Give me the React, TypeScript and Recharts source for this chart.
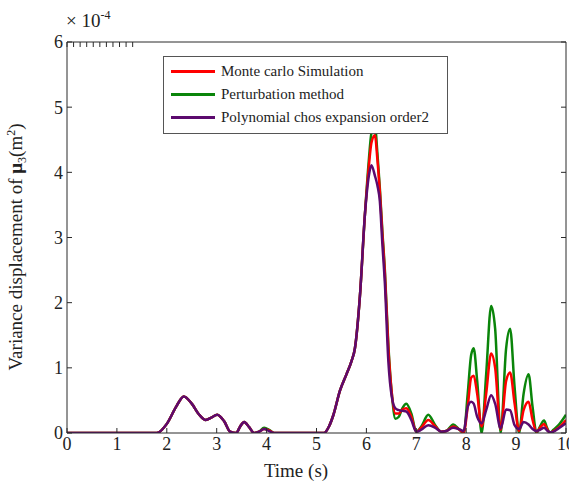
import React from 'react';
import { LineChart, Line, XAxis, YAxis, Label } from 'recharts';

// time (s)
const time = [
  0, 1.8, 2.0, 2.2, 2.34, 2.5, 2.65, 2.78, 2.9, 3.01, 3.15, 3.27, 3.39, 3.47, 3.55, 3.65, 3.75, 3.85, 3.95, 4.05, 4.15,
  5.15, 5.25, 5.34, 5.47, 5.6, 5.7, 5.77, 5.87, 5.97, 6.05, 6.1, 6.17, 6.22, 6.27, 6.32, 6.37, 6.44, 6.51, 6.58, 6.65,
  6.72, 6.8, 6.9, 7.0, 7.1, 7.24, 7.38, 7.5, 7.6, 7.74, 7.85, 7.95, 8.03, 8.1, 8.15, 8.22, 8.31, 8.4, 8.5, 8.58, 8.69,
  8.8, 8.88, 8.97, 9.06, 9.15, 9.25, 9.33, 9.41, 9.48, 9.56, 9.62, 9.68, 9.75, 9.85, 10,
];

// variance (x 1e-4 m^2)
const monteCarlo = [
  0, 0, 0.14, 0.42, 0.56, 0.45, 0.28, 0.2, 0.24, 0.28, 0.18, 0.02, 0, 0.1, 0.17, 0.09, 0, 0.02, 0.06, 0.04, 0,
  0, 0.1, 0.28, 0.65, 0.9, 1.1, 1.3, 2.1, 3.35, 4.1, 4.45, 4.57, 4.2, 3.7, 3.05, 2.45, 1.3, 0.6, 0.3, 0.3,
  0.36, 0.38, 0.25, 0.02, 0.08, 0.2, 0.1, 0.02, 0.03, 0.1, 0.06, 0.01, 0.4, 0.85, 0.88, 0.6, 0.1, 0.6, 1.22, 1.0, 0.05,
  0.8, 0.93, 0.45, 0.03, 0.35, 0.48, 0.2, 0.02, 0.08, 0.14, 0.06, 0, 0.03, 0.08, 0.2,
];
const perturbation = [
  0, 0, 0.14, 0.42, 0.56, 0.45, 0.28, 0.2, 0.24, 0.28, 0.18, 0.02, 0, 0.1, 0.17, 0.09, 0, 0.02, 0.08, 0.05, 0,
  0, 0.1, 0.28, 0.65, 0.9, 1.1, 1.3, 2.1, 3.35, 4.2, 4.6, 4.72, 4.3, 3.75, 3.1, 2.5, 1.35, 0.6, 0.22, 0.25,
  0.38, 0.45, 0.3, 0.02, 0.1, 0.28, 0.12, 0.02, 0.03, 0.13, 0.06, 0, 0.6, 1.2, 1.3, 0.8, 0, 0.9, 1.95, 1.6, 0,
  1.3, 1.6, 0.7, 0, 0.6, 0.9, 0.4, 0, 0.1, 0.19, 0.08, 0, 0.05, 0.12, 0.28,
];
const polyChaos = [
  0, 0, 0.14, 0.42, 0.56, 0.45, 0.28, 0.2, 0.24, 0.28, 0.18, 0.02, 0, 0.1, 0.17, 0.09, 0, 0.02, 0.06, 0.03, 0,
  0, 0.1, 0.28, 0.65, 0.9, 1.1, 1.3, 2.1, 3.35, 3.95, 4.11, 3.95, 3.8, 3.55, 2.9, 2.3, 1.1, 0.55, 0.38, 0.35,
  0.34, 0.33, 0.2, 0.02, 0.05, 0.12, 0.08, 0.02, 0.03, 0.08, 0.06, 0.03, 0.4, 0.48, 0.45, 0.25, 0.15, 0.35, 0.58, 0.45, 0.07,
  0.36, 0.35, 0.12, 0.06, 0.17, 0.13, 0.06, 0.03, 0.05, 0.08, 0.04, 0.01, 0.02, 0.07, 0.15,
];

const xTicks = [0, 1, 2, 3, 4, 5, 6, 7, 8, 9, 10];
const yTicks = [0, 1, 2, 3, 4, 5, 6];

const seriesNames = ['Monte carlo Simulation', 'Perturbation method', 'Polynomial chos expansion order2'];
const seriesColors = ['#ff0000', '#0a850a', '#5c0a6e'];

const data = time.map((t, i) => ({ t, mc: monteCarlo[i], pm: perturbation[i], pc: polyChaos[i] }));

const font = '"Liberation Serif", "DejaVu Serif", serif';
const axisColor = '#2a2a2a';
const tickStyle = { fontSize: 18, fill: '#222', fontFamily: font };

const LegendBox = () => (
  <div style={{ position: 'absolute', left: 163, top: 56, border: '1px solid #555', background: '#fff', padding: '3px 6px 4px 7px', fontFamily: font, fontSize: 15, color: '#222', width: 270 }}>
    {seriesNames.map((name, i) => (
      <div key={name} style={{ display: 'flex', alignItems: 'center', height: 23 }}>
        <span style={{ display: 'inline-block', width: 44, height: 2.5, background: seriesColors[i], marginRight: 6 }} />
        {name}
      </div>
    ))}
  </div>
);

export default function App() {
  return (
    <div style={{ position: 'absolute', left: 0, top: 0, width: 569, height: 483, background: '#fff' }}>
      <LineChart width={569} height={483} data={data} margin={{ top: 41, right: 2, bottom: 20, left: 27 }}>
        <XAxis dataKey="t" type="number" domain={[0, 10]} ticks={xTicks} height={30} tickSize={-5} tickMargin={9}
          stroke={axisColor} tick={tickStyle} interval={0} allowDataOverflow>
          <Label content={() => (
            <text x={296} y={477} textAnchor="middle" fontSize={19} fontFamily={font} fill="#222">Time (s)</text>
          )} />
        </XAxis>
        <XAxis xAxisId="top" orientation="top" type="number" domain={[0, 10]} ticks={xTicks} height={1} tickSize={-5}
          stroke={axisColor} tick={() => <g />} interval={0}>
          <Label content={() => (
            <text x={66} y={27} fontSize={19} fontFamily={font} fill="#222">
              × 10<tspan dy={-8} fontSize={12}>-4</tspan>
            </text>
          )} />
        </XAxis>
        <YAxis type="number" domain={[0, 6]} ticks={yTicks} width={40} tickSize={-5} tickMargin={9}
          stroke={axisColor} tick={tickStyle} interval={0} allowDataOverflow>
          <Label content={() => (
            <text x={22} y={247} transform="rotate(-90, 22, 247)" textAnchor="middle" fontSize={19} fontFamily={font} fill="#222">
              Variance displacement of <tspan fontWeight="bold">μ</tspan><tspan dy={4} fontSize={12}>3</tspan><tspan dy={-4}>(m</tspan><tspan dy={-7} fontSize={12}>2</tspan><tspan dy={7}>)</tspan>
            </text>
          )} />
        </YAxis>
        <YAxis yAxisId="right" orientation="right" type="number" domain={[0, 6]} ticks={yTicks} width={1} tickSize={-5}
          stroke={axisColor} tick={() => <g />} interval={0} />
        <Line dataKey="pm" name={seriesNames[1]} stroke={seriesColors[1]} strokeWidth={2.5} dot={false} type="monotone" isAnimationActive={false} />
        <Line dataKey="mc" name={seriesNames[0]} stroke={seriesColors[0]} strokeWidth={2.5} dot={false} type="monotone" isAnimationActive={false} />
        <Line dataKey="pc" name={seriesNames[2]} stroke={seriesColors[2]} strokeWidth={2.5} dot={false} type="monotone" isAnimationActive={false} />
        <Line xAxisId="top" yAxisId="right" dataKey="pc" stroke="none" dot={false} legendType="none" isAnimationActive={false} />
      </LineChart>
      <LegendBox />
    </div>
  );
}
